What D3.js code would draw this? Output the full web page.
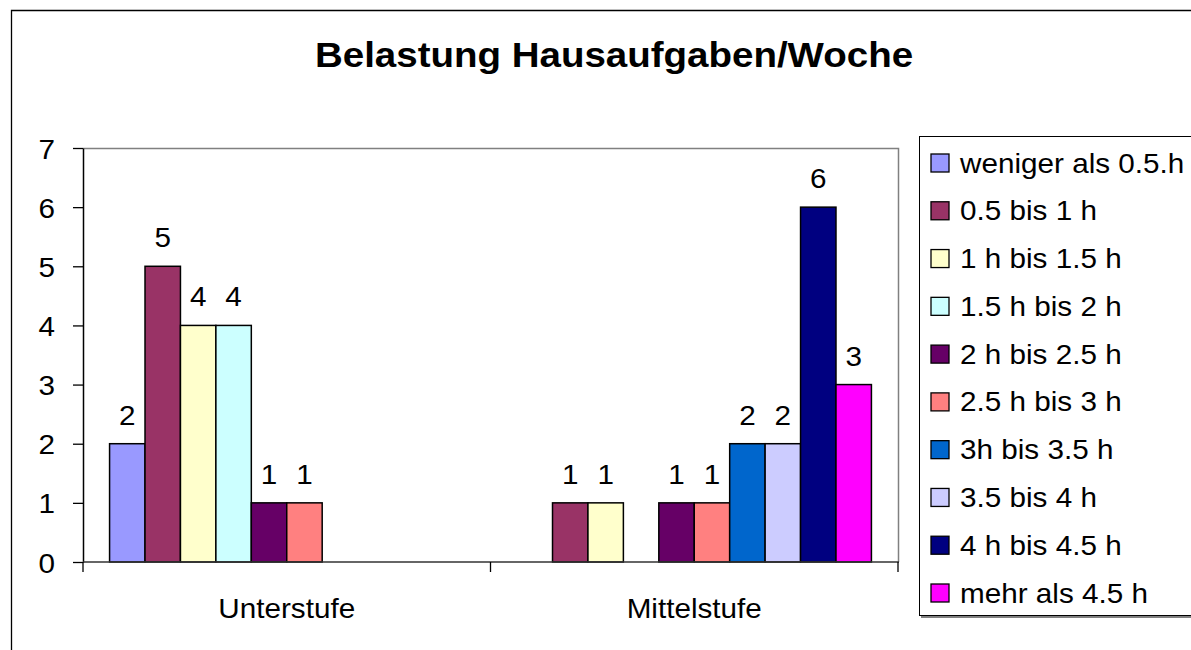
<!DOCTYPE html>
<html>
<head>
<meta charset="utf-8">
<script src="https://cdn.jsdelivr.net/npm/d3@7"></script>
<style>
  html, body { margin: 0; padding: 0; background: #fff; overflow: hidden; }
  svg { display: block; font-family: "Liberation Sans", Arial, sans-serif; }
</style>
</head>
<body>
<div id="chart"></div>
<script>
// Data
const categories = ['Unterstufe', 'Mittelstufe'];
const seriesNames = [
  'weniger als 0.5.h', '0.5 bis 1 h', '1 h bis 1.5 h', '1.5 h bis 2 h', '2 h bis 2.5 h',
  '2.5 h bis 3 h', '3h bis 3.5 h', '3.5 bis 4 h', '4 h bis 4.5 h', 'mehr als 4.5 h'
];
const unterstufe = [2, 5, 4, 4, 1, 1, null, null, null, null];
const mittelstufe = [null, 1, 1, null, 1, 1, 2, 2, 6, 3];
const seriesColors = [
  '#9999FF', '#993366', '#FFFFCC', '#CCFFFF', '#660066',
  '#FF8080', '#0066CC', '#CCCCFF', '#000080', '#FF00FF'
];
const yTicks = [0, 1, 2, 3, 4, 5, 6, 7];

const values = { Unterstufe: unterstufe, Mittelstufe: mittelstufe };

const W = 1191, H = 650;
const FS = 28;          // base font size
const SX = 1.06;        // the original text is drawn a bit wide

const svg = d3.select('#chart').append('svg')
  .attr('width', W)
  .attr('height', H);

// helper: text placed at (x,y), stretched horizontally
function wideText(sel, x, y) {
  return sel.attr('transform', (d, i) => `translate(${x(d, i)},${y(d, i)}) scale(${SX},1)`);
}

// Chart area border (runs off right and bottom)
svg.append('path')
  .attr('d', `M11.5,${H + 2} V10.5 H${W + 2}`)
  .attr('fill', 'none')
  .attr('stroke', '#000')
  .attr('stroke-width', 1.3);

// Title
svg.append('text')
  .attr('transform', `translate(614,67) scale(1.1,1)`)
  .attr('text-anchor', 'middle')
  .attr('font-size', 35)
  .attr('font-weight', 'bold')
  .text('Belastung Hausaufgaben/Woche');

const plot = { left: 83, right: 898, top: 148, bottom: 562 };

const x0 = d3.scaleBand()
  .domain(categories)
  .range([plot.left, plot.right]);

// Excel default gap width 150%
const bw = x0.bandwidth();
const barW = bw / (seriesNames.length + 1.5);
const x1 = d3.scaleBand()
  .domain(seriesNames)
  .range([barW * 0.75, bw - barW * 0.75]);

const y = d3.scaleLinear()
  .domain([0, 7])
  .range([plot.bottom, plot.top]);

// Plot area border (grey top and right)
svg.append('path')
  .attr('d', `M${plot.left},${plot.top + 0.5} H${plot.right + 0.5} V${plot.bottom}`)
  .attr('fill', 'none')
  .attr('stroke', '#808080')
  .attr('stroke-width', 1.5);

// Y axis
const yAxis = svg.append('g')
  .attr('transform', `translate(${plot.left},0)`)
  .call(d3.axisLeft(y).tickValues(yTicks).tickFormat(d3.format('d'))
    .tickSize(10).tickPadding(18).tickSizeOuter(0));
yAxis.select('.domain').attr('stroke', '#000').attr('stroke-width', 1.5);
yAxis.selectAll('.tick line').attr('stroke', '#000').attr('stroke-width', 1.3);
yAxis.selectAll('.tick text')
  .attr('x', null).attr('dy', null)
  .attr('transform', `translate(-28,10) scale(${SX},1)`)
  .attr('font-size', FS)
  .attr('font-family', '"Liberation Sans", Arial, sans-serif')
  .attr('fill', '#000');

// Bars
const groups = svg.selectAll('.cat')
  .data(categories)
  .enter().append('g')
    .attr('class', 'cat')
    .attr('transform', d => `translate(${x0(d)},0)`);

const bars = groups.selectAll('.bar')
  .data(c => seriesNames.map((s, i) => ({ series: s, value: values[c][i], color: seriesColors[i] }))
    .filter(d => d.value != null))
  .enter();

bars.append('rect')
  .attr('class', 'bar')
  .attr('x', d => x1(d.series))
  .attr('y', d => y(d.value))
  .attr('width', x1.bandwidth())
  .attr('height', d => y(0) - y(d.value))
  .attr('fill', d => d.color)
  .attr('stroke', '#000')
  .attr('stroke-width', 1.5);

wideText(bars.append('text'),
    d => x1(d.series) + x1.bandwidth() / 2,
    d => y(d.value) - 19)
  .attr('text-anchor', 'middle')
  .attr('font-size', FS)
  .text(d => d.value);

// X axis
const xAxis = svg.append('g')
  .attr('transform', `translate(0,${plot.bottom})`);
xAxis.append('line')
  .attr('x1', plot.left).attr('x2', plot.right + 1)
  .attr('stroke', '#333').attr('stroke-width', 1.5);
const xTickPos = [plot.left, ...categories.map(c => x0(c) + bw)];
xAxis.selectAll('.xtick')
  .data(xTickPos)
  .enter().append('line')
    .attr('x1', d => d).attr('x2', d => d)
    .attr('y1', 0).attr('y2', 10)
    .attr('stroke', '#000').attr('stroke-width', 1.3);
wideText(xAxis.selectAll('.xlabel')
  .data(categories)
  .enter().append('text'),
    d => x0(d) + bw / 2,
    () => 56)
  .attr('text-anchor', 'middle')
  .attr('font-size', FS)
  .text(d => d);

// Legend
const legend = svg.append('g').attr('transform', 'translate(919,136)');
legend.append('rect')
  .attr('x', 2).attr('y', 2)
  .attr('width', 300).attr('height', 480)
  .attr('fill', '#808080');
legend.append('rect')
  .attr('x', 0.5).attr('y', 0.5)
  .attr('width', 300).attr('height', 479)
  .attr('fill', '#fff')
  .attr('stroke', '#000')
  .attr('stroke-width', 1);

const ly = d3.scalePoint()
  .domain(seriesNames)
  .range([27, 457]);

const items = legend.selectAll('.item')
  .data(seriesNames)
  .enter().append('g')
    .attr('class', 'item')
    .attr('transform', d => `translate(0,${ly(d)})`);
items.append('rect')
  .attr('x', 12).attr('y', -9)
  .attr('width', 18).attr('height', 18)
  .attr('fill', (d, i) => seriesColors[i])
  .attr('stroke', '#000')
  .attr('stroke-width', 1.3);
wideText(items.append('text'), () => 41, () => 9.5)
  .attr('font-size', FS)
  .text(d => d);
</script>
</body>
</html>
